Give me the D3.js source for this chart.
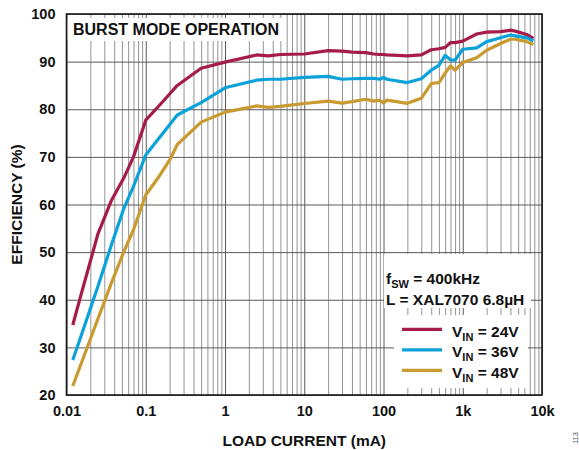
<!DOCTYPE html>
<html>
<head>
<meta charset="utf-8">
<script src="https://cdn.jsdelivr.net/npm/d3@7"></script>
<style>
  html, body { margin: 0; padding: 0; background: #fff; }
  svg { display: block; }
  text { font-family: "Liberation Sans", Arial, Helvetica, sans-serif; }
</style>
</head>
<body>
<svg id="chart" width="579" height="450"></svg>
<script>
// Load current (mA) at each measured point
const loadCurrent = [0.012, 0.015, 0.025, 0.037, 0.053, 0.07, 0.1, 0.15, 0.2, 0.25, 0.5, 1, 2.5, 3.5, 5, 10, 20, 30, 40, 60, 75, 90, 100, 110, 200, 300, 400, 500, 600, 700, 800, 1000, 1500, 2000, 3000, 4000, 4600, 6400, 7800];

// Efficiency (%) per input voltage
const eff24 = [34.7, 40.6, 53.9, 60.9, 65.6, 70.0, 77.7, 80.9, 83.2, 85.0, 88.6, 89.9, 91.4, 91.2, 91.5, 91.6, 92.3, 92.2, 92.0, 91.9, 91.6, 91.5, 91.5, 91.4, 91.2, 91.4, 92.5, 92.7, 93.0, 94.0, 94.0, 94.3, 95.8, 96.2, 96.3, 96.6, 96.4, 95.7, 94.9];
const eff36 = [27.35, 32.0, 42.9, 51.6, 59.2, 63.8, 70.4, 74.1, 76.75, 78.8, 81.4, 84.5, 86.1, 86.3, 86.3, 86.7, 86.9, 86.3, 86.4, 86.5, 86.5, 86.3, 86.7, 86.3, 85.6, 86.4, 88.2, 89.2, 91.3, 90.4, 90.3, 92.6, 92.9, 94.2, 95.0, 95.6, 95.4, 95.0, 94.4];
const eff48 = [21.9, 26.2, 36.05, 43.6, 50.1, 54.7, 62.0, 66.1, 69.3, 72.6, 77.3, 79.4, 80.7, 80.4, 80.6, 81.2, 81.7, 81.3, 81.6, 82.1, 81.7, 81.9, 81.3, 81.9, 81.25, 82.3, 85.4, 85.6, 87.6, 89.1, 88.2, 89.8, 90.8, 92.4, 93.8, 94.7, 94.7, 94.2, 93.6];

const seriesNames = ["24V", "36V", "48V"];
const seriesColors = ["#a51c4b", "#0aa2d9", "#c89a30"];

// Axis ticks
const xMajorTicks = [0.01, 0.1, 1, 10, 100, 1000, 10000];
const xTickLabels = ["0.01", "0.1", "1", "10", "100", "1k", "10k"];
const yTicks = [20, 30, 40, 50, 60, 70, 80, 90, 100];

const svg = d3.select("#chart");
const plotL = 66.5, plotR = 542, plotT = 14, plotB = 395;

const x = d3.scaleLog().domain([0.01, 10000]).range([plotL, plotR]);
const y = d3.scaleLinear().domain([20, 100]).range([plotB, plotT]);

// Minor decade gridlines (2..9 in every decade)
const minorTicks = [];
for (let d = -2; d < 4; d++) {
  for (let m = 2; m <= 9; m++) minorTicks.push(m * Math.pow(10, d));
}

const grid = svg.append("g");
grid.append("g")
  .attr("transform", `translate(0,${plotB})`)
  .call(d3.axisBottom(x).tickValues(minorTicks).tickSize(-(plotB - plotT)).tickFormat(""))
  .call(g => g.select(".domain").remove())
  .call(g => g.selectAll("line").attr("stroke", "#949494").attr("stroke-width", 1));
grid.append("g")
  .attr("transform", `translate(0,${plotB})`)
  .call(d3.axisBottom(x).tickValues(xMajorTicks).tickSize(-(plotB - plotT)).tickFormat(""))
  .call(g => g.select(".domain").remove())
  .call(g => g.selectAll("line").attr("stroke", "#5a5a5a").attr("stroke-width", 1));
grid.append("g")
  .attr("transform", `translate(${plotL},0)`)
  .call(d3.axisLeft(y).tickValues(yTicks).tickSize(-(plotR - plotL)).tickFormat(""))
  .call(g => g.select(".domain").remove())
  .call(g => g.selectAll("line").attr("stroke", "#5a5a5a").attr("stroke-width", 1));

// White backing boxes for the in-plot annotations
const boxes = [
  [67.5, 18, 284, 41],
  [384, 254, 531, 308],
  [394, 315, 528, 388]
];
svg.append("g").selectAll("rect").data(boxes).join("rect")
  .attr("x", d => d[0]).attr("y", d => d[1])
  .attr("width", d => d[2] - d[0]).attr("height", d => d[3] - d[1])
  .attr("fill", "#fff");

// Efficiency curves
const line = d3.line().x(d => x(d[0])).y(d => y(d[1]));
[eff24, eff36, eff48].forEach((vals, i) => {
  svg.append("path")
    .datum(loadCurrent.map((c, k) => [c, vals[k]]))
    .attr("d", line)
    .attr("fill", "none")
    .attr("stroke", seriesColors[i])
    .attr("stroke-width", 3.2)
    .attr("stroke-linejoin", "round");
});

// Plot frame
svg.append("rect")
  .attr("x", plotL).attr("y", plotT)
  .attr("width", plotR - plotL).attr("height", plotB - plotT)
  .attr("fill", "none").attr("stroke", "#1a1a1a").attr("stroke-width", 1.6);

// Tick labels
svg.append("g")
  .attr("transform", `translate(${plotL},0)`)
  .call(d3.axisLeft(y).tickValues(yTicks).tickSize(0).tickPadding(11).tickFormat(d3.format("d")))
  .call(g => g.select(".domain").remove())
  .call(g => g.selectAll("text")
    .attr("font-size", 14.5).attr("font-weight", "bold").attr("fill", "#111")
    .attr("font-family", "'Liberation Sans', Arial, sans-serif"));

svg.append("g")
  .attr("transform", `translate(0,${plotB})`)
  .call(d3.axisBottom(x).tickValues(xMajorTicks).tickSize(0).tickPadding(11)
    .tickFormat((d, i) => xTickLabels[i]))
  .call(g => g.select(".domain").remove())
  .call(g => g.selectAll("text")
    .attr("font-size", 14.5).attr("font-weight", "bold").attr("fill", "#111")
    .attr("font-family", "'Liberation Sans', Arial, sans-serif"));

// Axis titles
svg.append("text")
  .attr("x", (plotL + plotR) / 2).attr("y", 446)
  .attr("text-anchor", "middle")
  .attr("font-size", 15.5).attr("font-weight", "bold").attr("fill", "#111")
  .text("LOAD CURRENT (mA)");

svg.append("text")
  .attr("transform", `translate(21.5,${(plotT + plotB) / 2}) rotate(-90)`)
  .attr("text-anchor", "middle")
  .attr("font-size", 15.5).attr("font-weight", "bold").attr("fill", "#111")
  .text("EFFICIENCY (%)");

// Plot title
svg.append("text")
  .attr("x", 73).attr("y", 35)
  .attr("font-size", 16).attr("font-weight", "bold").attr("fill", "#111")
  .text("BURST MODE OPERATION");

// Operating conditions
const cond1 = svg.append("text")
  .attr("x", 386).attr("y", 283.5)
  .attr("font-size", 15.5).attr("font-weight", "bold").attr("fill", "#111");
cond1.append("tspan").text("f");
cond1.append("tspan").attr("font-size", 11).attr("dy", 4).text("SW");
cond1.append("tspan").attr("dy", -4).text(" = 400kHz");

svg.append("text")
  .attr("x", 386).attr("y", 304.5)
  .attr("font-size", 15.5).attr("font-weight", "bold").attr("fill", "#111")
  .text("L = XAL7070 6.8µH");

// Legend
const legendY = [336.8, 357.3, 377.8];
seriesNames.forEach((name, i) => {
  const ly = legendY[i];
  svg.append("line")
    .attr("x1", 402).attr("x2", 442)
    .attr("y1", ly - 7.5).attr("y2", ly - 7.5)
    .attr("stroke", seriesColors[i]).attr("stroke-width", 3.2);
  const t = svg.append("text")
    .attr("x", 452).attr("y", ly)
    .attr("font-size", 15.5).attr("font-weight", "bold").attr("fill", "#111");
  t.append("tspan").text("V");
  t.append("tspan").attr("font-size", 11).attr("dy", 4).text("IN");
  t.append("tspan").attr("dy", -4).text(" = " + name);
});

// Figure number
svg.append("text")
  .attr("transform", "translate(577.5,444) rotate(-90)")
  .attr("font-size", 7.5).attr("fill", "#555")
  .text("113");
</script>
</body>
</html>
